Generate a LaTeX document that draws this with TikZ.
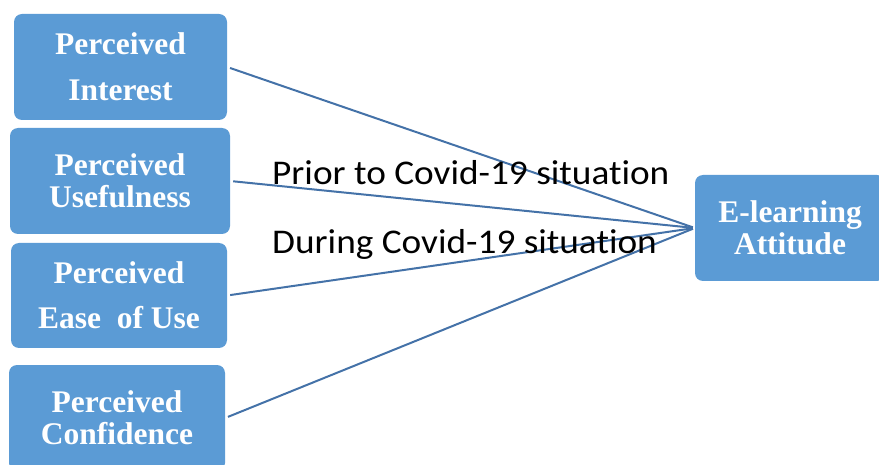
\documentclass[tikz,border=0pt]{standalone}
\usepackage{fontspec}
\setmainfont{Liberation Serif}
\newfontfamily\calib[Ligatures=NoCommon]{Carlito}
\definecolor{boxblue}{HTML}{5B9BD5}
\definecolor{linkblue}{RGB}{68,114,168}
\begin{document}
\begin{tikzpicture}[x=1pt,y=-1pt,
  factor/.style={draw=none, fill=boxblue, rounded corners=8pt, text=white,
    font=\fontsize{31.5}{32}\selectfont\bfseries, align=center, inner sep=0pt},
  link/.style={draw=linkblue, line width=2pt, shorten <=3pt, shorten >=2pt},
  lbl/.style={font=\calib\fontsize{33}{38}\selectfont, anchor=base west, inner sep=0pt}]
\useasboundingbox (0,0) rectangle (879,465);
\node[factor, minimum width=213pt, minimum height=106pt] (pi) at (120.5,67) {Perceived\\[14pt]Interest};
\node[factor, minimum width=220pt, minimum height=106pt] (pu) at (120,181) {Perceived\\Usefulness};
\node[factor, minimum width=216pt, minimum height=105pt] (pe) at (119,295.5) {Perceived\\[13pt]Ease\ \ of Use};
\node[factor, minimum width=216pt, minimum height=106pt] (pc) at (117,418) {Perceived\\Confidence};
\node[factor, minimum width=190pt, minimum height=106pt] (ea) at (790,228) {E-learning\\Attitude};
\draw[link] (pi.east) -- (ea.west);
\draw[link] (pu.east) -- (ea.west);
\draw[link] (pe.east) -- (ea.west);
\draw[link] (pc.east) -- (ea.west);
\node[lbl] (prior) at (272,185) {\scalebox{1.13}[1.05]{Prior to Covid-19 situation}};
\node[lbl] (during) at (272,254) {\scalebox{1.13}[1.05]{During Covid-19 situation}};
\end{tikzpicture}
\end{document}
